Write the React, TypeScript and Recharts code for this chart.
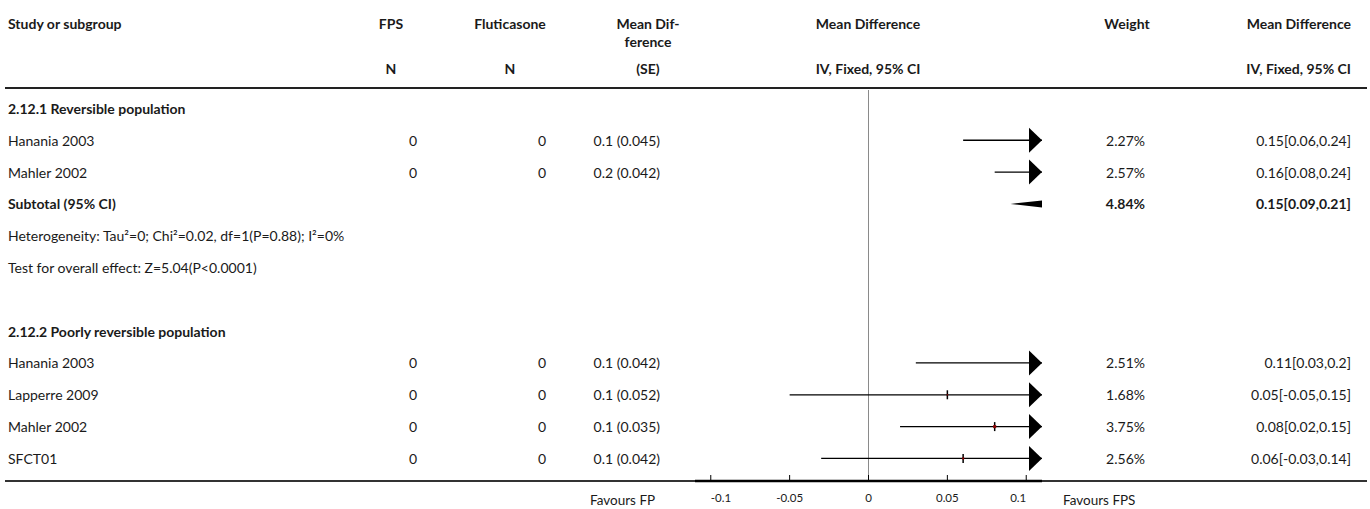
import React from 'react';
import {
  ComposedChart,
  XAxis,
  YAxis,
  Scatter,
  ReferenceLine,
  ReferenceDot,
  ReferenceArea,
} from 'recharts';

const FONT = 'Lato, "Noto Sans", sans-serif';
const INK = '#1a1a1a';

// Subgroups
const groupTitles = ['2.12.1 Reversible population', '2.12.2 Poorly reversible population'];

// Studies
const studyNames = ['Hanania 2003', 'Mahler 2002', 'Hanania 2003', 'Lapperre 2009', 'Mahler 2002', 'SFCT01'];
const studyGroup = [0, 0, 1, 1, 1, 1];
const fpsN = [0, 0, 0, 0, 0, 0];
const fluticasoneN = [0, 0, 0, 0, 0, 0];
const reportedMD = [0.1, 0.2, 0.1, 0.1, 0.1, 0.1];
const reportedSE = [0.045, 0.042, 0.042, 0.052, 0.035, 0.042];
const studyWeight = [2.27, 2.57, 2.51, 1.68, 3.75, 2.56];
const studyMean = [0.15, 0.16, 0.11, 0.05, 0.08, 0.06];
const studyLow = [0.06, 0.08, 0.03, -0.05, 0.02, -0.03];
const studyHigh = [0.24, 0.24, 0.2, 0.15, 0.15, 0.14];

// Pooled estimate per subgroup
const subtotalWeight = [4.84];
const subtotalMean = [0.15];
const subtotalLow = [0.09];
const subtotalHigh = [0.21];
const heterogeneityText = ['Heterogeneity: Tau\u00B2=0; Chi\u00B2=0.02, df=1(P=0.88); I\u00B2=0%'];
const overallEffectText = ['Test for overall effect: Z=5.04(P<0.0001)'];

// Effect axis
const axisTicks = [-0.1, -0.05, 0, 0.05, 0.1];
const axisDomain: [number, number] = [-0.11, 0.11];
const favoursLeft = 'Favours FP';
const favoursRight = 'Favours FPS';

type Row = { kind: 'group' | 'study' | 'subtotal' | 'note' | 'blank'; text?: string; idx?: number };

const rows: Row[] = [];
groupTitles.forEach((title, g) => {
  if (g > 0) rows.push({ kind: 'blank' });
  rows.push({ kind: 'group', text: title });
  studyNames.forEach((_, i) => {
    if (studyGroup[i] === g) rows.push({ kind: 'study', idx: i });
  });
  if (g < subtotalMean.length) {
    rows.push({ kind: 'subtotal', idx: g });
    rows.push({ kind: 'note', text: heterogeneityText[g] });
    rows.push({ kind: 'note', text: overallEffectText[g] });
  }
});

const rowOf = (kind: Row['kind'], idx: number) => rows.findIndex((r) => r.kind === kind && r.idx === idx);

// Point estimates that sit on or past the axis edge are shown by the arrow only
const studyPoints = studyNames
  .map((_, i) => ({ x: studyMean[i], y: rowOf('study', i), w: studyWeight[i] }))
  .filter((d) => d.x > axisDomain[0] && d.x < axisDomain[1]);

const ciLabel = (m: number, lo: number, hi: number) => `${m}[${lo},${hi}]`;

const textBase = {
  fontFamily: FONT,
  fontSize: 14,
  fill: INK,
  dominantBaseline: 'central' as const,
};

const LeftCells = (p: any) => {
  const row = rows[p.payload.value];
  const y = p.y;
  if (!row) return null;
  if (row.kind === 'group')
    return (
      <text {...textBase} x={8} y={y} fontWeight={700}>
        {row.text}
      </text>
    );
  if (row.kind === 'note')
    return (
      <text {...textBase} x={8} y={y}>
        {row.text}
      </text>
    );
  if (row.kind === 'subtotal')
    return (
      <text {...textBase} x={8} y={y} fontWeight={700}>
        Subtotal (95% CI)
      </text>
    );
  if (row.kind === 'study') {
    const i = row.idx as number;
    return (
      <g>
        <text {...textBase} x={8} y={y}>
          {studyNames[i]}
        </text>
        <text {...textBase} x={417} y={y} textAnchor="end">
          {fpsN[i]}
        </text>
        <text {...textBase} x={546} y={y} textAnchor="end">
          {fluticasoneN[i]}
        </text>
        <text {...textBase} x={660} y={y} textAnchor="end">
          {`${reportedMD[i]} (${reportedSE[i]})`}
        </text>
      </g>
    );
  }
  return null;
};

const RightCells = (p: any) => {
  const row = rows[p.payload.value];
  const y = p.y;
  if (!row) return null;
  if (row.kind === 'study') {
    const i = row.idx as number;
    return (
      <g>
        <text {...textBase} x={1145} y={y} textAnchor="end">
          {`${studyWeight[i].toFixed(2)}%`}
        </text>
        <text {...textBase} x={1351} y={y} textAnchor="end">
          {ciLabel(studyMean[i], studyLow[i], studyHigh[i])}
        </text>
      </g>
    );
  }
  if (row.kind === 'subtotal') {
    const g = row.idx as number;
    return (
      <g>
        <text {...textBase} x={1145} y={y} textAnchor="end" fontWeight={700}>
          {`${subtotalWeight[g].toFixed(2)}%`}
        </text>
        <text {...textBase} x={1351} y={y} textAnchor="end" fontWeight={700}>
          {ciLabel(subtotalMean[g], subtotalLow[g], subtotalHigh[g])}
        </text>
      </g>
    );
  }
  return null;
};

const EffectTick = (p: any) => {
  const { x, y, payload, index } = p;
  const last = axisTicks.length - 1;
  const anchor = index === 0 ? 'start' : index === last ? 'end' : 'middle';
  return (
    <g>
      <line x1={x} x2={x} y1={y - 10} y2={y - 16} stroke="#000" strokeWidth={1} />
      <text x={x} y={y + 6} textAnchor={anchor} dominantBaseline="central" fontFamily={FONT} fontSize={11.5} fill={INK}>
        {payload.value}
      </text>
    </g>
  );
};

const EstimateMark = (p: any) => {
  const { cx, cy, payload } = p;
  if (cx == null || cy == null) return null;
  const s = Math.max(1.2, payload.w * 0.8);
  return (
    <g>
      <line x1={cx} x2={cx} y1={cy - 4.5} y2={cy + 4.5} stroke="#000" strokeWidth={1.5} />
      <rect x={cx - s / 2} y={cy - s / 2} width={s} height={s} fill="#8b0000" />
    </g>
  );
};

const ArrowRight = (p: any) => {
  const { cx, cy } = p;
  return <polygon points={`${cx},${cy} ${cx - 13},${cy - 12.5} ${cx - 13},${cy + 12.5}`} fill="#000" />;
};

const ArrowLeft = (p: any) => {
  const { cx, cy } = p;
  return <polygon points={`${cx},${cy} ${cx + 13},${cy - 12.5} ${cx + 13},${cy + 12.5}`} fill="#000" />;
};

const Diamond = (p: any) => {
  const { x, y, width, height, clipPath } = p;
  return (
    <g clipPath={clipPath}>
      <polygon
        points={`${x},${y + height / 2} ${x + width / 2},${y} ${x + width},${y + height / 2} ${x + width / 2},${y + height}`}
        fill="#000"
      />
    </g>
  );
};

const header = (text: string, x: number, y: number, align: 'left' | 'center' | 'right', bold = true, size = 14) => {
  const style: React.CSSProperties = {
    position: 'absolute',
    top: y - 10,
    height: 20,
    lineHeight: '20px',
    fontFamily: FONT,
    fontSize: size,
    fontWeight: bold ? 700 : 400,
    color: INK,
    whiteSpace: 'nowrap',
  };
  if (align === 'left') style.left = x;
  if (align === 'center') {
    style.left = x - 150;
    style.width = 300;
    style.textAlign = 'center';
  }
  if (align === 'right') {
    style.left = x - 300;
    style.width = 300;
    style.textAlign = 'right';
  }
  return (
    <div key={`${text}-${x}-${y}`} style={style}>
      {text}
    </div>
  );
};

const rowTicks = rows.map((_, i) => i);
const yDomain: [number, number] = [-0.58, rows.length - 0.29];

export default function App() {
  return (
    <div style={{ position: 'absolute', left: 0, top: 0, width: 1370, height: 509, background: '#fff', overflow: 'hidden' }}>
      {header('Study or subgroup', 8, 24, 'left')}
      {header('FPS', 391, 24, 'center')}
      {header('N', 391, 69, 'center')}
      {header('Fluticasone', 510, 24, 'center')}
      {header('N', 510, 69, 'center')}
      {header('Mean Dif-', 648, 24, 'center')}
      {header('ference', 648, 42, 'center')}
      {header('(SE)', 648, 69, 'center')}
      {header('Mean Difference', 868, 24, 'center')}
      {header('IV, Fixed, 95% CI', 868, 69, 'center')}
      {header('Weight', 1127, 24, 'center')}
      {header('Mean Difference', 1351, 24, 'right')}
      {header('IV, Fixed, 95% CI', 1351, 69, 'right')}
      <div style={{ position: 'absolute', left: 5, top: 87, width: 1362, height: 2, background: '#222' }} />
      <div style={{ position: 'absolute', left: 5, top: 480, width: 1362, height: 1.5, background: '#333' }} />
      {header(favoursLeft, 590, 500, 'left', false, 13.5)}
      {header(favoursRight, 1063, 500, 'left', false, 13.5)}
      <div style={{ position: 'absolute', left: 0, top: 0 }}>
        <ComposedChart width={1370} height={509} margin={{ top: 90, right: 0, bottom: 0, left: 0 }}>
          <XAxis
            type="number"
            dataKey="x"
            domain={axisDomain}
            ticks={axisTicks}
            allowDataOverflow
            height={28}
            axisLine={{ stroke: '#000', strokeWidth: 2.5 }}
            tickLine={false}
            tickSize={0}
            tickMargin={10}
            tick={EffectTick}
            interval={0}
          />
          <YAxis
            yAxisId="left"
            type="number"
            dataKey="y"
            orientation="left"
            width={695}
            domain={yDomain}
            ticks={rowTicks}
            reversed
            allowDataOverflow
            axisLine={false}
            tickLine={false}
            tick={LeftCells}
            interval={0}
          />
          <YAxis
            yAxisId="right"
            type="number"
            dataKey="y"
            orientation="right"
            width={328}
            domain={yDomain}
            ticks={rowTicks}
            reversed
            allowDataOverflow
            axisLine={false}
            tickLine={false}
            tick={RightCells}
            interval={0}
          />
          <ReferenceLine yAxisId="left" x={0} stroke="#8a8a8a" strokeWidth={1} />
          {studyNames.map((_, i) => (
            <ReferenceLine
              key={`ci-${i}`}
              yAxisId="left"
              ifOverflow="hidden"
              segment={[
                { x: studyLow[i], y: rowOf('study', i) },
                { x: studyHigh[i], y: rowOf('study', i) },
              ]}
              stroke="#000"
              strokeWidth={1.3}
            />
          ))}
          {subtotalMean.map((_, g) => (
            <ReferenceArea
              key={`pool-${g}`}
              yAxisId="left"
              ifOverflow="hidden"
              x1={subtotalLow[g]}
              x2={subtotalHigh[g]}
              y1={rowOf('subtotal', g) - 0.33}
              y2={rowOf('subtotal', g) + 0.33}
              shape={Diamond}
            />
          ))}
          <Scatter
            yAxisId="left"
            data={studyPoints}
            dataKey="y"
            shape={EstimateMark}
            isAnimationActive={false}
          />
          {studyNames.map((_, i) =>
            studyHigh[i] > axisDomain[1] ? (
              <ReferenceDot
                key={`ar-${i}`}
                yAxisId="left"
                x={axisDomain[1]}
                y={rowOf('study', i)}
                ifOverflow="visible"
                shape={ArrowRight}
              />
            ) : null
          )}
          {studyNames.map((_, i) =>
            studyLow[i] < axisDomain[0] ? (
              <ReferenceDot
                key={`al-${i}`}
                yAxisId="left"
                x={axisDomain[0]}
                y={rowOf('study', i)}
                ifOverflow="visible"
                shape={ArrowLeft}
              />
            ) : null
          )}
        </ComposedChart>
      </div>
    </div>
  );
}
